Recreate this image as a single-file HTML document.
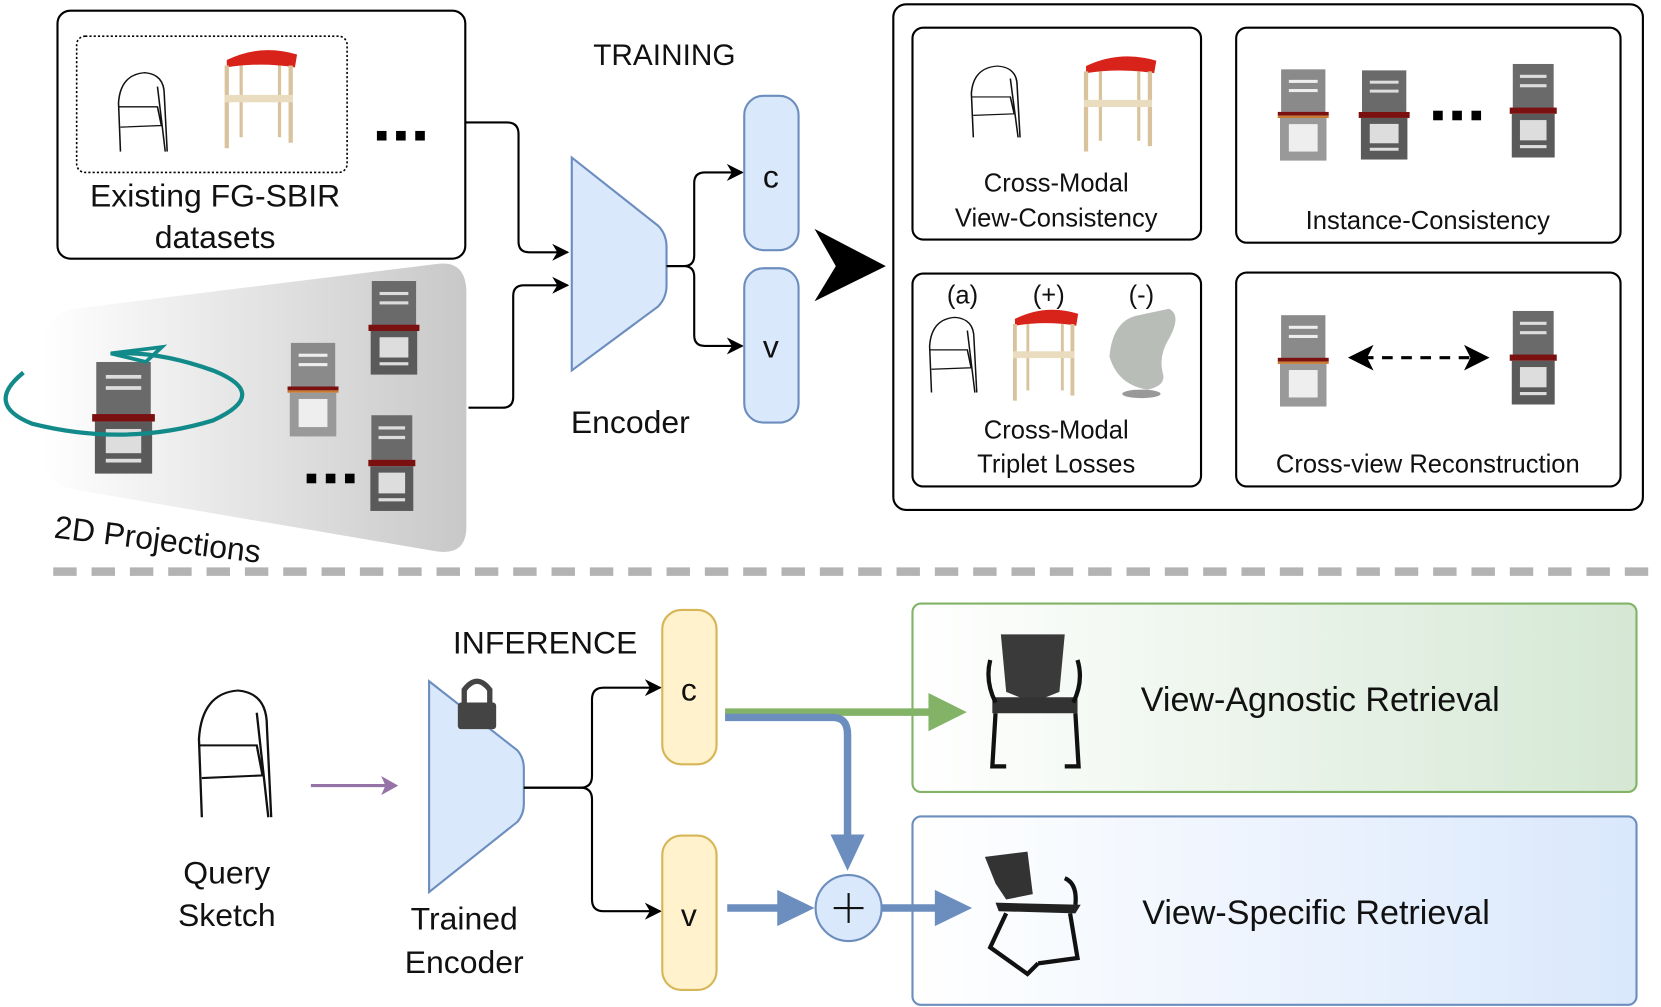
<!DOCTYPE html>
<html><head><meta charset="utf-8"><style>
html,body{margin:0;padding:0;background:#fff;width:1661px;height:1007px;overflow:hidden}
svg{display:block}
text{font-family:"Liberation Sans",sans-serif;fill:#111}
</style></head><body>
<svg width="1661" height="1007" viewBox="0 0 1560 946" preserveAspectRatio="none" xmlns="http://www.w3.org/2000/svg">
<defs>
<linearGradient id="gray" x1="0" x2="1" y1="0" y2="0"><stop offset="0" stop-color="#fff"/><stop offset="1" stop-color="#c8c8c8"/></linearGradient>
<linearGradient id="grn" x1="0" x2="1"><stop offset="0" stop-color="#fff"/><stop offset="1" stop-color="#d5e8d4"/></linearGradient>
<linearGradient id="blu" x1="0" x2="1"><stop offset="0" stop-color="#fff"/><stop offset="1" stop-color="#dae8fc"/></linearGradient>
<marker id="ah" viewBox="0 0 10 10" refX="9" refY="5" markerWidth="8" markerHeight="8" orient="auto"><path d="M0,0 L10,5 L0,10 L3,5z" fill="#000"/></marker>
<symbol id="gc" viewBox="0 0 50 120" preserveAspectRatio="none">
<rect x="5" y="0" width="40" height="60" fill="#6a6a6a"/>
<rect x="12" y="14" width="26" height="4" fill="#ddd"/><rect x="12" y="26" width="26" height="4" fill="#ddd"/>
<rect x="2" y="56" width="46" height="8" fill="#7a1010"/>
<rect x="4" y="64" width="42" height="56" fill="#5a5a5a"/>
<rect x="12" y="72" width="26" height="26" fill="#ddd"/><rect x="12" y="104" width="26" height="4" fill="#ddd"/>
</symbol>
<symbol id="lc" viewBox="0 0 50 120" preserveAspectRatio="none">
<rect x="5" y="0" width="40" height="60" fill="#8a8a8a"/>
<rect x="12" y="14" width="26" height="4" fill="#eee"/><rect x="12" y="26" width="26" height="4" fill="#eee"/>
<rect x="2" y="56" width="46" height="5" fill="#7a1010"/><rect x="2" y="61" width="46" height="3" fill="#c87a30"/>
<rect x="4" y="64" width="42" height="56" fill="#999"/>
<rect x="12" y="72" width="26" height="36" fill="#eee"/>
</symbol>
<symbol id="rc" viewBox="0 0 80 110" preserveAspectRatio="none">
<path d="M8,12 Q40,-6 74,6 L72,20 Q40,14 8,20z" fill="#d8231b"/>
<rect x="6" y="18" width="4" height="90" fill="#d9c39c"/><rect x="66" y="18" width="4" height="84" fill="#d9c39c"/>
<rect x="20" y="18" width="3" height="78" fill="#d9c39c"/><rect x="56" y="18" width="3" height="78" fill="#d9c39c"/>
<rect x="6" y="50" width="64" height="8" fill="#eadcbf"/>
</symbol>
<symbol id="sk" viewBox="0 0 70 110" preserveAspectRatio="none">
<path d="M10,100 L8,40 Q10,5 35,3 Q55,5 55,30 L58,100 M8,45 L48,45 L52,68 L10,70 M48,20 L56,100" fill="none" stroke="#111" stroke-width="1.6"/>
</symbol>
</defs>

<!-- Box1 -->
<rect x="54" y="10" width="383" height="233" rx="12" fill="#fff" stroke="#000" stroke-width="2"/>
<rect x="72" y="34" width="254" height="128" rx="8" fill="none" stroke="#000" stroke-width="1.5" stroke-dasharray="2 2"/>
<use href="#sk" x="104" y="66" width="64" height="84"/>
<use href="#rc" x="205" y="46" width="80" height="95"/>
<g fill="#000"><rect x="354" y="123" width="9" height="9"/><rect x="372" y="123" width="9" height="9"/><rect x="390" y="123" width="9" height="9"/></g>
<text x="202" y="194" font-size="30" text-anchor="middle">Existing FG-SBIR</text>
<text x="202" y="233" font-size="30" text-anchor="middle">datasets</text>

<!-- gray projection -->
<path d="M70,290 L410,248 Q438,244 438,275 L438,495 Q438,522 410,518 L70,460 Q40,455 40,420 L40,330 Q40,294 70,290z" fill="url(#gray)"/>
<use href="#gc" x="84" y="340" width="64" height="105"/>
<use href="#lc" x="268" y="322" width="52" height="88"/>
<use href="#gc" x="344" y="264" width="52" height="88"/>
<use href="#gc" x="344" y="390" width="48" height="90"/>
<g fill="#000"><rect x="288" y="445" width="9" height="9"/><rect x="306" y="445" width="9" height="9"/><rect x="324" y="445" width="9" height="9"/></g>
<path d="M22,350 Q-15,380 30,398 Q118,420 200,395 Q255,370 200,348 Q150,330 108,332" fill="none" stroke="#138a8a" stroke-width="4"/>
<path d="M104,332 L152,326 L137,340z" fill="none" stroke="#138a8a" stroke-width="3.5"/>
<text x="50" y="505" font-size="30" transform="rotate(7 50 505)">2D Projections</text>

<!-- connectors -->
<path d="M437,115 L476,115 Q487,115 487,126 L487,227 Q487,237 497,237 L533,237" fill="none" stroke="#000" stroke-width="2" marker-end="url(#ah)"/>
<path d="M440,383 L472,383 Q482,383 482,373 L482,278 Q482,268 492,268 L533,268" fill="none" stroke="#000" stroke-width="2" marker-end="url(#ah)"/>

<!-- encoder -->
<path d="M537,148 L618,212 Q626,220 626,232 L626,268 Q626,280 618,288 L537,348z" fill="#dae8fc" stroke="#6c8ebf" stroke-width="2"/>
<text x="592" y="407" font-size="30" text-anchor="middle">Encoder</text>
<text x="624" y="61" font-size="28" text-anchor="middle">TRAINING</text>
<path d="M626,250 L642,250 Q652,250 652,240 L652,172 Q652,162 662,162 L697,162" fill="none" stroke="#000" stroke-width="2" marker-end="url(#ah)"/>
<path d="M626,250 L642,250 Q652,250 652,260 L652,315 Q652,325 662,325 L697,325" fill="none" stroke="#000" stroke-width="2" marker-end="url(#ah)"/>
<rect x="699" y="90" width="51" height="145" rx="18" fill="#dae8fc" stroke="#6c8ebf" stroke-width="2"/>
<rect x="699" y="252" width="51" height="145" rx="18" fill="#dae8fc" stroke="#6c8ebf" stroke-width="2"/>
<text x="724" y="176" font-size="30" text-anchor="middle">c</text>
<text x="724" y="336" font-size="30" text-anchor="middle">v</text>
<path d="M765,215 L832,250 L765,283 L785,250z" fill="#000"/>

<!-- right box -->
<rect x="839" y="4" width="704" height="475" rx="12" fill="#fff" stroke="#000" stroke-width="2"/>
<rect x="857" y="26" width="271" height="199" rx="10" fill="none" stroke="#000" stroke-width="2"/>
<rect x="1161" y="26" width="361" height="202" rx="10" fill="none" stroke="#000" stroke-width="2"/>
<rect x="857" y="257" width="271" height="200" rx="10" fill="none" stroke="#000" stroke-width="2"/>
<rect x="1161" y="256" width="361" height="201" rx="10" fill="none" stroke="#000" stroke-width="2"/>
<use href="#sk" x="905" y="60" width="64" height="76"/>
<use href="#rc" x="1012" y="52" width="80" height="92"/>
<text x="992" y="180" font-size="24" text-anchor="middle">Cross-Modal</text>
<text x="992" y="213" font-size="24" text-anchor="middle">View-Consistency</text>
<use href="#lc" x="1198" y="65" width="52" height="86"/>
<use href="#gc" x="1274" y="66" width="52" height="84"/>
<g fill="#000"><rect x="1346" y="104" width="9" height="9"/><rect x="1364" y="104" width="9" height="9"/><rect x="1382" y="104" width="9" height="9"/></g>
<use href="#gc" x="1416" y="60" width="48" height="88"/>
<text x="1341" y="215" font-size="24" text-anchor="middle">Instance-Consistency</text>
<text x="904" y="285" font-size="24" text-anchor="middle">(a)</text>
<text x="985" y="285" font-size="24" text-anchor="middle">(+)</text>
<text x="1072" y="285" font-size="24" text-anchor="middle">(-)</text>
<use href="#sk" x="866" y="296" width="62" height="80"/>
<use href="#rc" x="946" y="290" width="72" height="88"/>
<path d="M1098,290 Q1110,296 1098,318 Q1088,334 1092,350 Q1096,362 1078,366 Q1050,362 1042,335 Q1045,300 1070,296z" fill="#b8bdb8"/>
<ellipse cx="1072" cy="370" rx="18" ry="4" fill="#999"/>
<text x="992" y="412" font-size="24" text-anchor="middle">Cross-Modal</text>
<text x="992" y="444" font-size="24" text-anchor="middle">Triplet Losses</text>
<use href="#lc" x="1198" y="296" width="52" height="86"/>
<use href="#gc" x="1416" y="292" width="48" height="88"/>
<line x1="1280" y1="336" x2="1385" y2="336" stroke="#000" stroke-width="3" stroke-dasharray="10 8"/>
<path d="M1266,336 L1290,324 L1284,336 L1290,348z" fill="#000"/>
<path d="M1399,336 L1375,324 L1381,336 L1375,348z" fill="#000"/>
<text x="1341" y="444" font-size="24" text-anchor="middle">Cross-view Reconstruction</text>

<!-- dashed separator -->
<line x1="50" y1="537" x2="1560" y2="537" stroke="#b3b3b3" stroke-width="8" stroke-dasharray="22 14"/>

<!-- inference -->
<text x="512" y="614" font-size="30" text-anchor="middle">INFERENCE</text>
<use href="#sk" x="176" y="645" width="95" height="135"/>
<text x="213" y="830" font-size="30" text-anchor="middle">Query</text>
<text x="213" y="870" font-size="30" text-anchor="middle">Sketch</text>
<line x1="292" y1="738" x2="362" y2="738" stroke="#9673a6" stroke-width="3"/>
<path d="M374,738 L358,729 L362,738 L358,747z" fill="#9673a6"/>
<path d="M403,640 L486,705 Q492,712 492,722 L492,755 Q492,765 486,772 L403,838z" fill="#dae8fc" stroke="#6c8ebf" stroke-width="2"/>
<path d="M436,662 L436,648 Q448,632 460,648 L460,662" fill="none" stroke="#444" stroke-width="5"/>
<rect x="430" y="660" width="36" height="25" rx="3" fill="#444"/>
<text x="436" y="873" font-size="30" text-anchor="middle">Trained</text>
<text x="436" y="914" font-size="30" text-anchor="middle">Encoder</text>
<path d="M492,740 L545,740 Q556,740 556,729 L556,657 Q556,646 567,646 L620,646" fill="none" stroke="#000" stroke-width="2" marker-end="url(#ah)"/>
<path d="M492,740 L545,740 Q556,740 556,751 L556,845 Q556,856 567,856 L620,856" fill="none" stroke="#000" stroke-width="2" marker-end="url(#ah)"/>
<rect x="622" y="573" width="51" height="145" rx="18" fill="#fff2cc" stroke="#d6b656" stroke-width="2"/>
<rect x="622" y="785" width="51" height="145" rx="18" fill="#fff2cc" stroke="#d6b656" stroke-width="2"/>
<text x="647" y="658" font-size="30" text-anchor="middle">c</text>
<text x="647" y="870" font-size="30" text-anchor="middle">v</text>

<rect x="857" y="567" width="680" height="177" rx="8" fill="url(#grn)" stroke="#82b366" stroke-width="2"/>
<rect x="857" y="767" width="680" height="177" rx="8" fill="url(#blu)" stroke="#6c8ebf" stroke-width="2"/>
<text x="1240" y="668" font-size="32" text-anchor="middle">View-Agnostic Retrieval</text>
<text x="1236" y="868" font-size="32" text-anchor="middle">View-Specific Retrieval</text>

<line x1="681" y1="669" x2="875" y2="669" stroke="#82b366" stroke-width="7"/>
<path d="M908,669 L872,651 L872,687z" fill="#82b366"/>
<path d="M681,674 L782,674 Q796,674 796,690 L796,790" fill="none" stroke="#6c8ebf" stroke-width="7"/>
<path d="M796,818 L780,784 L812,784z" fill="#6c8ebf"/>
<line x1="683" y1="853" x2="735" y2="853" stroke="#6c8ebf" stroke-width="7"/>
<path d="M765,853 L730,836 L730,870z" fill="#6c8ebf"/>
<circle cx="797" cy="853" r="31" fill="#dae8fc" stroke="#6c8ebf" stroke-width="2"/>
<path d="M783,853 L811,853 M797,839 L797,867" stroke="#111" stroke-width="2"/>
<line x1="828" y1="853" x2="882" y2="853" stroke="#6c8ebf" stroke-width="7"/>
<path d="M913,853 L878,836 L878,870z" fill="#6c8ebf"/>

<!-- retrieval chairs -->
<path d="M940,596 L1000,596 L995,650 L970,660 L945,650z" fill="#3a3a3a"/>
<path d="M932,655 L1012,655 L1012,670 L932,670z" fill="#333"/>
<path d="M935,670 L932,720 L945,720 M1010,670 L1013,720 L1000,720 M930,620 Q925,640 935,660 M1012,620 Q1018,640 1008,660" fill="none" stroke="#111" stroke-width="4"/>
<path d="M925,805 L965,800 L970,840 L945,845 L935,830z" fill="#333"/>
<path d="M935,848 L1015,850 L1010,858 L938,856z" fill="#222"/>
<path d="M945,858 L930,890 L965,915 L975,905 M1005,858 L1012,900 L975,905 M1000,825 Q1012,830 1010,850" fill="none" stroke="#111" stroke-width="4"/>
</svg>
</body></html>
